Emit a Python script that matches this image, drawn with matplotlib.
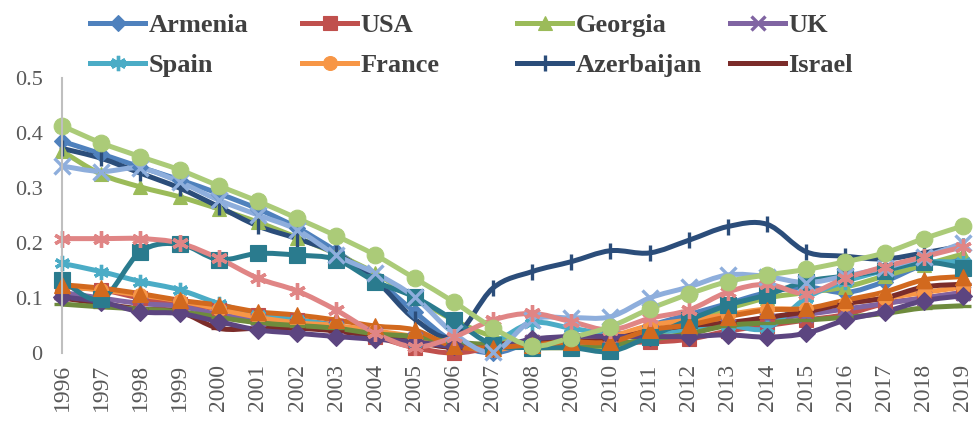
import numpy as np
import matplotlib
matplotlib.use("Agg")
import matplotlib.pyplot as plt
from matplotlib.path import Path
from matplotlib.patches import PathPatch
from matplotlib.lines import Line2D

plt.rcParams['font.family'] = ['Liberation Serif', 'DejaVu Serif']

years = list(range(1996, 2020))

# legend series
armenia = [0.385, 0.362, 0.338, 0.315, 0.29, 0.262, 0.228, 0.185, 0.135, 0.075, 0.02, 0.0,
           0.02, 0.03, 0.03, 0.05, 0.07, 0.09, 0.11, 0.12, 0.11, 0.13, 0.16, 0.17]
usa = [0.12, 0.115, 0.1, 0.09, 0.08, 0.07, 0.06, 0.05, 0.03, 0.01, 0.0, 0.01,
       0.02, 0.02, 0.02, 0.02, 0.025, 0.04, 0.05, 0.06, 0.07, 0.09, 0.1, 0.11]
georgia = [0.367, 0.325, 0.302, 0.284, 0.262, 0.238, 0.21, 0.18, 0.145, 0.1, 0.06, 0.03,
           0.015, 0.01, 0.01, 0.03, 0.05, 0.08, 0.1, 0.11, 0.12, 0.14, 0.16, 0.18]
uk = [0.11, 0.1, 0.09, 0.085, 0.07, 0.06, 0.05, 0.045, 0.035, 0.025, 0.015, 0.01,
      0.02, 0.025, 0.03, 0.04, 0.045, 0.05, 0.06, 0.07, 0.08, 0.09, 0.1, 0.11]
spain = [0.163, 0.148, 0.13, 0.115, 0.09, 0.07, 0.06, 0.05, 0.035, 0.02, 0.015, 0.02,
         0.055, 0.045, 0.035, 0.04, 0.04, 0.05, 0.045, 0.1, 0.13, 0.15, 0.165, 0.165]
france = [0.12, 0.115, 0.105, 0.095, 0.08, 0.065, 0.055, 0.05, 0.04, 0.03, 0.015, 0.005,
          0.02, 0.02, 0.03, 0.05, 0.06, 0.07, 0.08, 0.08, 0.09, 0.1, 0.11, 0.12]
azerbaijan = [0.372, 0.354, 0.327, 0.3, 0.266, 0.231, 0.208, 0.181, 0.133, 0.062, 0.03, 0.118,
              0.148, 0.166, 0.186, 0.182, 0.205, 0.23, 0.234, 0.184, 0.176, 0.171, 0.182, 0.195]
israel = [0.1, 0.09, 0.08, 0.075, 0.045, 0.045, 0.045, 0.04, 0.03, 0.02, 0.01, 0.015,
          0.02, 0.02, 0.025, 0.04, 0.05, 0.055, 0.065, 0.075, 0.09, 0.1, 0.12, 0.125]

# extra series drawn in the plot but cut from the legend
series9 = [0.089, 0.084, 0.08, 0.075, 0.065, 0.055, 0.05, 0.045, 0.035, 0.03, 0.02, 0.015,
           0.01, 0.01, 0.015, 0.025, 0.035, 0.05, 0.055, 0.06, 0.065, 0.072, 0.082, 0.086]
series10 = [0.102, 0.093, 0.075, 0.072, 0.057, 0.042, 0.036, 0.03, 0.025, 0.02, 0.012, 0.01,
            0.025, 0.03, 0.03, 0.03, 0.03, 0.033, 0.029, 0.036, 0.06, 0.075, 0.095, 0.104]
series11 = [0.133, 0.098, 0.184, 0.198, 0.17, 0.181, 0.178, 0.17, 0.13, 0.102, 0.06, 0.015,
            0.01, 0.01, 0.003, 0.03, 0.06, 0.087, 0.106, 0.13, 0.14, 0.15, 0.165, 0.155]
series12 = [0.124, 0.118, 0.108, 0.096, 0.087, 0.075, 0.069, 0.06, 0.049, 0.042, 0.012, 0.01,
            0.015, 0.02, 0.02, 0.042, 0.051, 0.066, 0.078, 0.081, 0.096, 0.111, 0.133, 0.139]
series13 = [0.34, 0.33, 0.336, 0.311, 0.278, 0.251, 0.224, 0.178, 0.145, 0.102, 0.036, 0.002,
            0.06, 0.064, 0.066, 0.1, 0.12, 0.142, 0.139, 0.128, 0.14, 0.155, 0.175, 0.2]
series14 = [0.208, 0.208, 0.208, 0.2, 0.172, 0.136, 0.113, 0.078, 0.036, 0.011, 0.029, 0.06,
            0.072, 0.057, 0.042, 0.063, 0.078, 0.111, 0.125, 0.108, 0.136, 0.157, 0.175, 0.193]
series15 = [0.413, 0.382, 0.357, 0.333, 0.304, 0.276, 0.245, 0.213, 0.178, 0.136, 0.093, 0.046,
            0.013, 0.028, 0.048, 0.08, 0.107, 0.13, 0.142, 0.152, 0.166, 0.182, 0.208, 0.231]

asterisk = (6, 2, 0)
# name, values, color, marker, marker size
series = [
    ("Armenia", armenia, "#4F81BD", "D", 8.5),
    ("USA", usa, "#C0504D", "s", 10),
    ("Georgia", georgia, "#9BBB59", "^", 10),
    ("UK", uk, "#8064A2", "x", 10),
    ("Spain", spain, "#4BACC6", asterisk, 11),
    ("France", france, "#F79646", "o", 10),
    ("Azerbaijan", azerbaijan, "#2B4D7A", "|", 12),
    ("Israel", israel, "#7B2C2A", "_", 12),
    ("s9", series9, "#6E8B3D", "_", 12),
    ("s10", series10, "#5C4580", "D", 9),
    ("s11", series11, "#2A7B8E", "s", 11),
    ("s12", series12, "#D2691E", "^", 11),
    ("s13", series13, "#8EAEDC", "x", 11),
    ("s14", series14, "#E08585", asterisk, 12),
    ("s15", series15, "#ABCB78", "o", 12),
]


def smooth_path(x, y):
    # excel-like smoothed line: bezier segments (catmull-rom control points)
    pts = np.column_stack([x, y]).astype(float)
    n = len(pts)
    verts = [pts[0]]
    codes = [Path.MOVETO]
    for i in range(n - 1):
        p0 = pts[i - 1] if i > 0 else pts[i]
        p1 = pts[i]
        p2 = pts[i + 1]
        p3 = pts[i + 2] if i + 2 < n else pts[i + 1]
        c1 = p1 + (p2 - p0) / 6.0
        c2 = p2 - (p3 - p1) / 6.0
        verts += [c1, c2, p2]
        codes += [Path.CURVE4] * 3
    return Path(verts, codes)


fig = plt.figure(figsize=(9.75, 4.3), dpi=100)
ax = fig.add_axes([0.0636, 0.179, 0.924, 0.6396])

handles = {}
for name, vals, col, mk, ms in series:
    patch = PathPatch(smooth_path(years, vals), fill=False, edgecolor=col, lw=3.6,
                      capstyle='round', joinstyle='round', clip_on=False)
    ax.add_patch(patch)
    thin = mk in ("x", "|", "_", asterisk)
    ax.plot(years, vals, linestyle='none', marker=mk, markersize=ms, color=col,
            markeredgecolor=col, markeredgewidth=2.4 if thin else 0.8, clip_on=False)
    handles[name] = Line2D([], [], color=col, lw=3.6, marker=mk, markersize=ms,
                           markeredgecolor=col, markeredgewidth=2.4 if thin else 0.8)

ax.set_xlim(1996, 2019)
ax.set_ylim(0, 0.5)
ax.set_yticks([0, 0.1, 0.2, 0.3, 0.4, 0.5])
ax.set_yticklabels(["0", "0.1", "0.2", "0.3", "0.4", "0.5"])
ax.set_xticks(years)
ax.set_xticklabels([str(y) for y in years], rotation=90, fontsize=17, color="#595959")
for lab in ax.get_yticklabels():
    lab.set_fontsize(16)
    lab.set_color("#595959")
ax.tick_params(axis='y', length=0, pad=14)
ax.tick_params(axis='x', length=0, pad=8)
for s in ["top", "right", "bottom"]:
    ax.spines[s].set_visible(False)
ax.spines["left"].set_color("#BFBFBF")
ax.spines["left"].set_linewidth(1.5)

# legend: 2 rows x 4 columns, each column its own legend block
cols = [("Armenia", "Spain"), ("USA", "France"), ("Georgia", "Azerbaijan"), ("UK", "Israel")]
col_x = [90, 302, 517, 730]
for (a, b), xp in zip(cols, col_x):
    leg = fig.legend([handles[a], handles[b]], [a, b], loc="upper left",
                     bbox_to_anchor=(xp / 975, 1 - 14 / 430), frameon=False,
                     prop={'size': 19, 'weight': 'bold'}, handlelength=2.1,
                     handletextpad=0.12, labelspacing=0.6, borderaxespad=0,
                     borderpad=0)
    for t in leg.get_texts():
        t.set_color("#404040")

fig.savefig("out.png", dpi=100, facecolor="white")
